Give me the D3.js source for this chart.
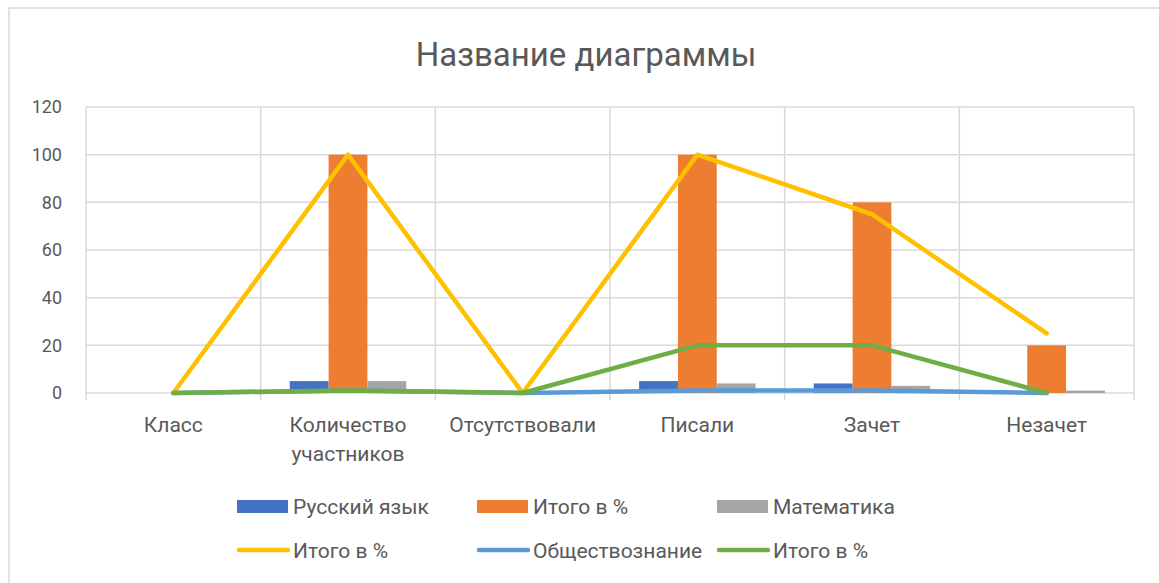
<!DOCTYPE html>
<html>
<head>
<meta charset="utf-8">
<script src="https://cdn.jsdelivr.net/npm/d3@7"></script>
<style>
  body { margin: 0; background: #fff; }
  text { font-family: Roboto, "Noto Sans", sans-serif; fill: #595959; }
</style>
</head>
<body>
<div id="wrap"></div>
<script>
// данные диаграммы
const categories = ["Класс", "Количество участников", "Отсутствовали", "Писали", "Зачет", "Незачет"];
const russian = [0, 5, 0, 5, 4, 0];
const itogoBars = [0, 100, 0, 100, 80, 20];
const math = [0, 5, 0, 4, 3, 1];
const itogoYellow = [0, 100, 0, 100, 75, 25];
const social = [0, 1, 0, 1, 1, 0];
const itogoGreen = [0, 1, 0, 20, 20, 0];
const yTicks = [0, 20, 40, 60, 80, 100, 120];

const width = 1159;
const height = 583;
const plot = { left: 86, right: 1134, top: 107, bottom: 393 };

const barSeries = [
  { name: "Русский язык", values: russian, color: "#4472C4" },
  { name: "Итого в %", values: itogoBars, color: "#ED7D31" },
  { name: "Математика", values: math, color: "#A5A5A5" }
];
const lineSeries = [
  { name: "Итого в %", values: itogoYellow, color: "#FFC000" },
  { name: "Обществознание", values: social, color: "#5B9BD5" },
  { name: "Итого в %", values: itogoGreen, color: "#70AD47" }
];

let svg = d3.select("#wrap")
  .append("svg")
  .attr("width", width)
  .attr("height", height);

// рамка
svg.append("rect")
  .attr("x", 9).attr("y", 8)
  .attr("width", 1170).attr("height", 600)
  .attr("fill", "#fff")
  .attr("stroke", "#d9d9d9")
  .attr("stroke-width", 1.5);

// заголовок
svg.append("text")
  .attr("x", 586).attr("y", 66)
  .attr("text-anchor", "middle")
  .style("font-size", "33px")
  .text("Название диаграммы");

const xScale = d3.scaleBand()
  .domain(categories)
  .range([plot.left, plot.right]);
const yScale = d3.scaleLinear()
  .domain([0, 120])
  .range([plot.bottom, plot.top]);

// сетка
svg.append("g")
  .selectAll("line")
  .data(yTicks)
  .enter()
  .append("line")
  .attr("x1", plot.left).attr("x2", plot.right)
  .attr("y1", d => yScale(d)).attr("y2", d => yScale(d))
  .attr("stroke", "#d9d9d9")
  .attr("stroke-width", 1.5);

const bounds = categories.map(c => xScale(c)).concat([plot.right]);
svg.append("g")
  .selectAll("line")
  .data(bounds)
  .enter()
  .append("line")
  .attr("x1", d => d).attr("x2", d => d)
  .attr("y1", plot.top).attr("y2", plot.bottom + 7)
  .attr("stroke", "#d9d9d9")
  .attr("stroke-width", 1.5);

// ось Y
const yAxis = d3.axisLeft(yScale).tickValues(yTicks).tickSize(0).tickPadding(24);
const gY = svg.append("g").attr("transform", `translate(${plot.left},0)`);
yAxis(gY);
gY.select(".domain").remove();
gY.selectAll("text").style("font-size", "18px").attr("fill", "#595959");

// подписи категорий
const catG = svg.append("g");
categories.forEach(c => {
  const words = c.split(" ");
  const t = catG.append("text")
    .attr("x", xScale(c) + xScale.bandwidth() / 2)
    .attr("y", 432)
    .attr("text-anchor", "middle")
    .style("font-size", "21px");
  words.forEach((w, i) => {
    t.append("tspan")
      .attr("x", xScale(c) + xScale.bandwidth() / 2)
      .attr("dy", i === 0 ? 0 : 29)
      .text(w);
  });
});

// столбцы
const inner = d3.scaleBand()
  .domain(d3.range(barSeries.length))
  .range([0, xScale.bandwidth()])
  .paddingOuter(0.75);
barSeries.forEach((s, si) => {
  svg.append("g")
    .selectAll("rect")
    .data(s.values)
    .enter()
    .append("rect")
    .attr("x", (d, i) => xScale(categories[i]) + inner(si))
    .attr("y", d => yScale(d))
    .attr("width", inner.bandwidth())
    .attr("height", d => plot.bottom - yScale(d))
    .attr("fill", s.color);
});

// линии
const line = d3.line()
  .x((d, i) => xScale(categories[i]) + xScale.bandwidth() / 2)
  .y(d => yScale(d));
lineSeries.forEach(s => {
  svg.append("path")
    .datum(s.values)
    .attr("d", line)
    .attr("fill", "none")
    .attr("stroke", s.color)
    .attr("stroke-width", 4.5)
    .attr("stroke-linecap", "round")
    .attr("stroke-linejoin", "round");
});

// легенда
const legX = [237, 477, 717];
const legend = svg.append("g");
barSeries.forEach((s, i) => {
  legend.append("rect")
    .attr("x", legX[i]).attr("y", 500)
    .attr("width", 51).attr("height", 13)
    .attr("fill", s.color);
  legend.append("text")
    .attr("x", legX[i] + 56).attr("y", 514)
    .style("font-size", "21px")
    .text(s.name);
});
lineSeries.forEach((s, i) => {
  legend.append("line")
    .attr("x1", legX[i] + 2).attr("x2", legX[i] + 51)
    .attr("y1", 550).attr("y2", 550)
    .attr("stroke", s.color)
    .attr("stroke-width", 4.5)
    .attr("stroke-linecap", "round");
  legend.append("text")
    .attr("x", legX[i] + 56).attr("y", 558)
    .style("font-size", "21px")
    .text(s.name);
});
</script>
</body>
</html>
